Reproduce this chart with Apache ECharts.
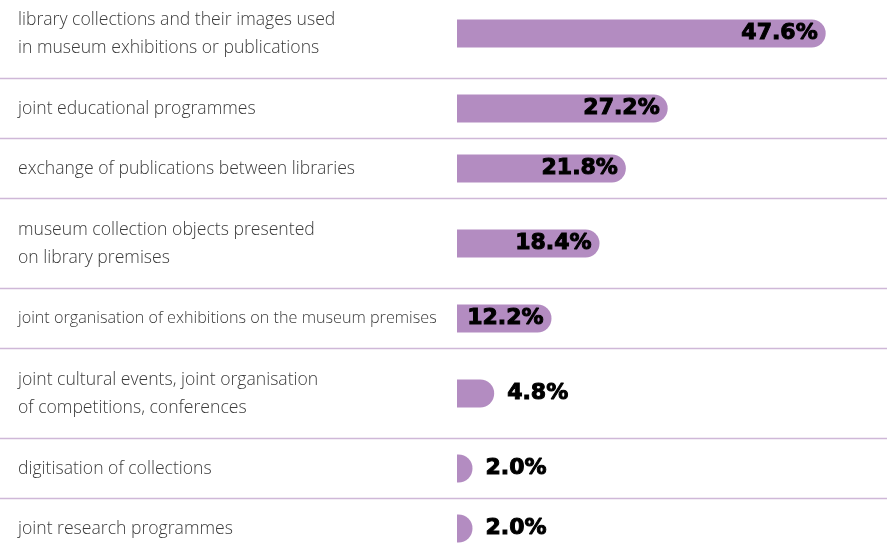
<!DOCTYPE html>
<html><head><meta charset="utf-8">
<script src="https://cdn.jsdelivr.net/npm/echarts@6/dist/echarts.min.js"></script>
<style>html,body{margin:0;padding:0;background:#fff}#c{width:887px;height:554px}</style>
</head><body><div id="c"></div>
<script>
const categories = [
  'library collections and their images used\nin museum exhibitions or publications',
  'joint educational programmes',
  'exchange of publications between libraries',
  'museum collection objects presented\non library premises',
  'joint organisation of exhibitions on the museum premises',
  'joint cultural events, joint organisation\nof competitions, conferences',
  'digitisation of collections',
  'joint research programmes'
];
const values = [47.6, 27.2, 21.8, 18.4, 12.2, 4.8, 2.0, 2.0];

const chart = echarts.init(document.getElementById('c'), null, {renderer: 'canvas'});
const W = 887, barLeft = 457, labelLeft = 18;
const barColor = '#b38cc1';
const lineColor = '#cfb8d8';

let y = -11.5;
const grids = [], xAxes = [], yAxes = [], series = [], graphics = [];
categories.forEach((cat, i) => {
  const nLines = cat.split('\n').length;
  const h = 60 + 30 * (nLines - 1);
  const longest = Math.max(...cat.split('\n').map(s => s.length));
  const center = y + h / 2;
  grids.push({left: barLeft, right: 4, top: center - 25, height: 50});
  xAxes.push({type: 'value', gridIndex: i, min: 0, max: 55, show: false});
  yAxes.push({
    type: 'category', gridIndex: i, data: [cat],
    axisLine: {show: false}, axisTick: {show: false}, splitLine: {show: false},
    axisLabel: {
      align: 'left', margin: barLeft - labelLeft, color: '#3a3a3a',
      fontFamily: 'Open Sans', fontWeight: 300,
      fontSize: longest > 45 ? 16.2 : 17.6, lineHeight: 28
    }
  });
  const v = values[i];
  series.push({
    type: 'bar', xAxisIndex: i, yAxisIndex: i, barWidth: 28,
    itemStyle: {color: barColor, borderRadius: [0, 14, 14, 0]},
    label: {
      show: true,
      position: v >= 10 ? 'insideRight' : 'right',
      distance: v >= 10 ? 8 : 13,
      formatter: p => p.value.toFixed(1) + '%',
      color: '#000', fontFamily: 'DejaVu Sans', fontWeight: 'bold', fontSize: 22,
      textBorderColor: '#000', textBorderWidth: 1
    },
    data: [v], silent: true, animation: false
  });
  y += h;
  if (i < categories.length - 1) {
    graphics.push({type: 'line', shape: {x1: 0, y1: y, x2: W, y2: y},
      style: {stroke: lineColor, lineWidth: 1.5}, silent: true});
  }
});

chart.setOption({
  animation: false,
  grid: grids, xAxis: xAxes, yAxis: yAxes, series: series,
  graphic: graphics
});
</script></body></html>
